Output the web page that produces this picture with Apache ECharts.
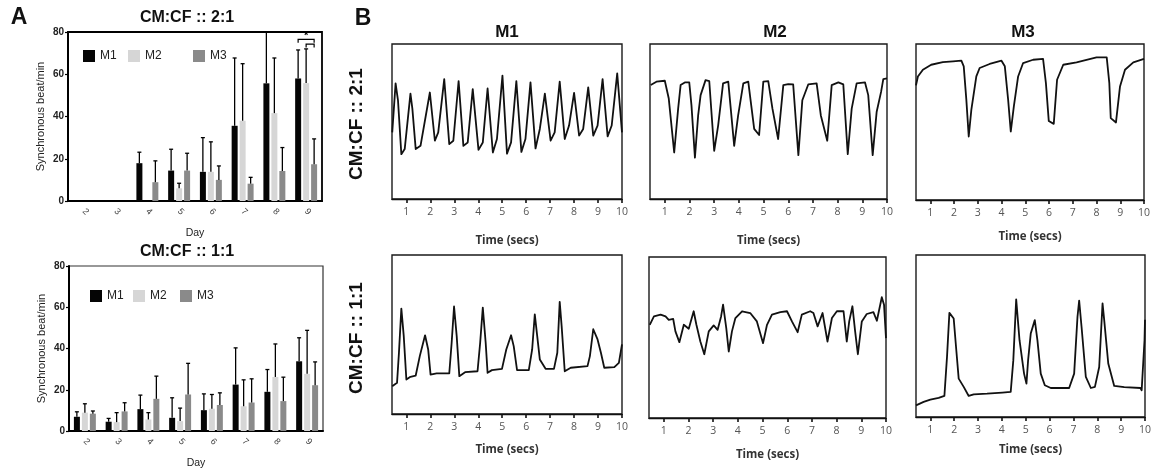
<!DOCTYPE html>
<html><head><meta charset="utf-8">
<script src="https://cdn.jsdelivr.net/npm/echarts@6/dist/echarts.min.js"></script>
<style>html,body{margin:0;padding:0;background:#fff}#c{width:1154px;height:470px}</style>
</head><body><div id="c"></div>
<script>
// ---------- Panel A data ----------
const days = ['2','3','4','5','6','7','8','9'];
const seriesNames = ['M1','M2','M3'];
// CM:CF 2:1 (means and upper SD)
const r21_M1 = [0,0,17.9,14.4,13.8,35.6,55.7,58.0];
const r21_M1_sd = [0,0,5.2,10.1,16.2,32.1,30.0,13.5];
const r21_M2 = [0,0,0,6.0,13.8,38.0,41.6,55.8];
const r21_M2_sd = [0,0,0,2.4,14.2,27.0,26.1,16.2];
const r21_M3 = [0,0,8.9,14.4,10.0,8.2,14.2,17.4];
const r21_M3_sd = [0,0,10.1,8.2,6.6,3.0,11.1,12.0];
// CM:CF 1:1
const r11_M1 = [6.9,4.5,10.6,6.4,10.1,22.5,19.0,33.8];
const r11_M1_sd = [2.4,1.6,6.8,9.7,7.9,17.8,10.8,11.4];
const r11_M2 = [8.9,4.3,5.6,4.8,10.8,12.0,26.2,27.7];
const r11_M2_sd = [4.3,4.6,3.3,6.3,6.9,12.8,16.0,21.1];
const r11_M3 = [8.4,9.5,15.6,17.7,12.6,13.8,14.5,22.2];
const r11_M3_sd = [1.3,4.2,11.0,15.1,5.9,11.5,11.6,11.3];
// significance brackets (day index, from series, to series, y value)
const sigBrackets = [[7,0,2,76.5],[7,1,2,74.3]];
const sigStars = [[7,1,78.2]];

// ---------- Panel B traces: [time (s), normalised signal] ----------
const timeTicks = [1,2,3,4,5,6,7,8,9,10];
const trace_21_M1 = [[0.41,43],[0.55,74.6],[0.65,63.7],[0.79,28.9],[0.93,32.2],[1.17,68],[1.25,58.3],[1.39,32.2],[1.59,34.3],[1.98,68.7],[2.19,37.6],[2.33,43],[2.58,77.4],[2.79,35.4],[2.96,37.6],[3.18,76.1],[3.38,34.3],[3.56,36.5],[3.77,70.9],[4.01,31.7],[4.19,36.5],[4.39,71.3],[4.61,30],[4.78,38.7],[5.01,79.6],[5.2,29.3],[5.37,36.5],[5.59,76.1],[5.8,30.4],[5.97,38.7],[6.18,75.2],[6.39,32.6],[6.57,45.2],[6.78,68],[7.02,37.6],[7.19,43],[7.4,75.7],[7.61,38.7],[7.79,47.4],[8,68.5],[8.21,40.9],[8.38,45.2],[8.59,72],[8.8,40.9],[8.98,47.4],[9.19,77.4],[9.4,40.4],[9.57,47.4],[9.8,81.1],[10,43]];
const trace_21_M2 = [[0.43,73.5],[0.66,75.7],[1.0,76.3],[1.16,64.8],[1.38,30],[1.54,58.3],[1.64,73.5],[1.81,75.2],[1.99,75.2],[2.08,60.4],[2.22,26.7],[2.35,53.9],[2.45,67],[2.65,76.7],[2.8,76.1],[3.0,31.1],[3.16,47.4],[3.36,74.6],[3.57,75.7],[3.81,34.3],[3.97,53.9],[4.18,74.6],[4.38,75.7],[4.62,45.2],[4.82,41.3],[4.99,75.7],[5.19,76.1],[5.36,58.3],[5.59,38.7],[5.8,73.5],[6.0,74.1],[6.2,73.9],[6.41,28.3],[6.57,63.7],[6.81,73.9],[7.15,74.6],[7.32,53.9],[7.58,37.6],[7.76,73.5],[8.03,75.2],[8.23,73.9],[8.41,28.9],[8.57,58.3],[8.77,74.6],[9.11,75.2],[9.24,67],[9.42,28.3],[9.58,56.1],[9.76,69.1],[9.85,77.4],[10,77.8]];
const trace_21_M3 = [[0.4,73.5],[0.48,79.2],[0.69,83.5],[1.04,86.7],[1.53,88.4],[1.96,88.9],[2.31,89.3],[2.41,85.7],[2.52,64.2],[2.62,40.7],[2.73,57.8],[2.94,79.2],[3.08,84.6],[3.5,87.2],[4.0,89.3],[4.14,85.7],[4.28,64.2],[4.39,43.9],[4.52,60],[4.7,79.2],[4.91,87.8],[5.33,89.9],[5.75,90.4],[5.87,74.9],[5.99,50.7],[6.2,48.8],[6.34,77.1],[6.6,86.7],[7.16,88.2],[8.0,91.4],[8.43,91.4],[8.54,74.9],[8.6,52.5],[8.82,49.7],[8.99,72.8],[9.2,83.5],[9.55,88.2],[10,90.4]];
const trace_11_M1 = [[0.41,17.5],[0.61,19.6],[0.69,38.5],[0.79,66.3],[0.89,49.1],[1.0,21.7],[1.17,23.4],[1.39,24.2],[1.56,36.4],[1.78,49.5],[1.91,40.6],[2.01,24.8],[2.26,25.5],[2.79,25.5],[2.89,44.8],[2.99,67.6],[3.1,49.1],[3.21,23.8],[3.45,26.3],[3.97,26.9],[4.08,44.8],[4.19,66.9],[4.31,44.8],[4.39,25.9],[4.57,27.6],[4.99,28.4],[5.17,40.6],[5.37,49.5],[5.48,42.7],[5.62,27.6],[6.11,27.6],[6.25,40.6],[6.36,62.7],[6.46,49.1],[6.57,34.3],[6.81,28.4],[7.16,28.4],[7.3,38.5],[7.4,70.5],[7.48,55.4],[7.61,26.9],[7.86,29.1],[8.56,30.1],[8.66,36.4],[8.8,53.3],[8.98,46.9],[9.12,38.5],[9.26,29.1],[9.68,29.5],[9.87,32.2],[10,43.8]];
const trace_11_M2 = [[0.43,57.9],[0.6,63.1],[0.87,64.2],[1.07,63.1],[1.2,61],[1.38,61.5],[1.47,53.8],[1.63,47.1],[1.81,57.9],[2.01,55.4],[2.21,66.3],[2.32,57.9],[2.48,47.5],[2.64,39.6],[2.82,53.8],[3.02,57.5],[3.18,54.8],[3.32,63.1],[3.4,70.4],[3.53,55.8],[3.63,41.3],[3.76,53.8],[3.9,62.1],[4.17,66.3],[4.5,65.2],[4.77,60],[5.02,46.5],[5.18,57.9],[5.38,64.2],[5.72,65.8],[5.99,66.3],[6.19,60],[6.42,53.3],[6.59,64.2],[6.93,66.3],[7.06,65.2],[7.23,56.9],[7.43,65.2],[7.63,47.5],[7.81,62.1],[8.01,66.3],[8.28,66.3],[8.41,47.5],[8.51,60],[8.64,69.4],[8.75,53.8],[8.86,39.6],[9.02,60],[9.22,64.6],[9.49,65.8],[9.63,60.4],[9.83,75],[9.92,70.4],[10,49.6]];
const trace_11_M3 = [[0.4,7.2],[0.72,9.3],[1.0,10.7],[1.35,11.8],[1.59,13],[1.7,37.1],[1.8,64.3],[1.98,60.8],[2.09,41.2],[2.19,23.7],[2.4,18.6],[2.61,13],[2.82,14],[3.38,14.4],[4.02,15.1],[4.37,15.5],[4.48,35.1],[4.6,72.6],[4.74,47.4],[4.93,26.8],[5.03,20.6],[5.1,35.1],[5.21,51.5],[5.38,59.8],[5.49,47.4],[5.63,26.8],[5.8,19.6],[6.05,17.9],[6.82,17.9],[7.03,26.8],[7.17,61.9],[7.24,71.8],[7.34,55.7],[7.52,24.7],[7.73,17.9],[7.9,18.6],[8.08,30.9],[8.22,70.1],[8.29,59.8],[8.46,33],[8.71,19.2],[9.13,18.4],[9.81,17.9],[9.86,16.5],[9.98,47.4],[10,60]];

// ---------- build ----------
const FONT = 'Liberation Sans, Arial, sans-serif';
const barColors = ['#050505','#d6d6d6','#8a8a8a'];
const BAR_STEP = 8; // px between bar centres inside a group
const barOffset = i => (i - 1) * BAR_STEP;

const chart = echarts.init(document.getElementById('c'));

const grids = [
  {left:68, top:32, width:254, height:169, show:true, borderColor:'#000', borderWidth:1.8},
  {left:69, top:266, width:254, height:166, show:true, borderColor:'#333', borderWidth:1.2},
  {left:392, top:44, width:230, height:155},
  {left:650, top:44, width:237, height:155},
  {left:916, top:44, width:228, height:156},
  {left:392, top:255, width:230, height:159},
  {left:649, top:257, width:237, height:161},
  {left:916, top:255, width:229, height:162}
].map(g => Object.assign({show:true, borderColor:'#1a1a1a', borderWidth:1.4, containLabel:false}, g));

const xAxes = [], yAxes = [], series = [];

// bar panels
[[0, [r21_M1,r21_M2,r21_M3], [r21_M1_sd,r21_M2_sd,r21_M3_sd], 27],
 [1, [r11_M1,r11_M2,r11_M3], [r11_M1_sd,r11_M2_sd,r11_M3_sd], 27]].forEach(([gi, means, sds, dayGap]) => {
  xAxes.push({type:'category', gridIndex:gi, data:days,
    axisLine:{lineStyle:{color:'#000', width:2}},
    axisTick:{alignWithLabel:true, length:3, lineStyle:{color:'#000', width:1.2}},
    axisLabel:{rotate:-45, fontSize:9, color:'#444', margin:9, fontFamily:FONT},
    name:'Day', nameLocation:'middle', nameGap:dayGap,
    nameTextStyle:{fontSize:10.5, color:'#222', fontFamily:FONT}});
  yAxes.push({type:'value', gridIndex:gi, min:0, max:80, interval:20,
    axisLine:{show:true, lineStyle:{color:'#000', width:2}},
    axisTick:{show:true, length:3, lineStyle:{color:'#000', width:1.2}},
    splitLine:{show:false},
    axisLabel:{fontSize:10, fontWeight:'bold', color:'#222', margin:4, fontFamily:FONT},
    name:'Synchronous beat/min', nameLocation:'middle', nameGap:22,
    nameTextStyle:{fontSize:11, color:'#222', fontFamily:FONT}});
  means.forEach((m, si) => {
    series.push({type:'bar', name:seriesNames[si], xAxisIndex:gi, yAxisIndex:gi,
      data:m, barWidth:6, barGap:'33%', itemStyle:{color:barColors[si]}, z:2, silent:true});
  });
  means.forEach((m, si) => {
    const off = barOffset(si);
    series.push({type:'custom', name:seriesNames[si] + ' SD', xAxisIndex:gi, yAxisIndex:gi, z:3, clip:true, silent:true,
      data: m.map((v, i) => [i, v, sds[si][i]]),
      renderItem(params, api) {
        const sd = api.value(2);
        if (!(sd > 0)) return null;
        const mean = api.value(1);
        const b = api.coord([api.value(0), mean]);
        const t = api.coord([api.value(0), mean + sd]);
        const x = b[0] + off;
        const st = {stroke:'#000', lineWidth:1.3};
        return {type:'group', children:[
          {type:'line', shape:{x1:x, y1:b[1], x2:x, y2:t[1]}, style:st},
          {type:'line', shape:{x1:x-2, y1:t[1], x2:x+2, y2:t[1]}, style:st}
        ]};
      }});
  });
});

// significance markers on 2:1 panel
series.push({type:'custom', name:'sig', xAxisIndex:0, yAxisIndex:0, z:4, silent:true,
  data: sigBrackets,
  renderItem(params, api) {
    const c1 = api.coord([api.value(0), api.value(3)]);
    const c0 = api.coord([api.value(0), api.value(3) - 1.6]);
    const x1 = c1[0] + barOffset(api.value(1)), x2 = c1[0] + barOffset(api.value(2));
    return {type:'polyline', shape:{points:[[x1,c0[1]],[x1,c1[1]],[x2,c1[1]],[x2,c0[1]]]},
      style:{stroke:'#000', lineWidth:1.2, fill:null}};
  }});
series.push({type:'custom', name:'star', xAxisIndex:0, yAxisIndex:0, z:4, silent:true,
  data: sigStars,
  renderItem(params, api) {
    const c = api.coord([api.value(0), api.value(2)]);
    return {type:'text', x:c[0] + barOffset(api.value(1)), y:c[1],
      style:{text:'*', fontSize:11, fontWeight:'bold', fill:'#000', align:'center', verticalAlign:'middle', fontFamily:FONT}};
  }});

// trace panels
const traces = [
  [2, trace_21_M1, 36], [3, trace_21_M2, 36], [4, trace_21_M3, 31],
  [5, trace_11_M1, 30], [6, trace_11_M2, 31], [7, trace_11_M3, 27]
];
traces.forEach(([gi, data, gap]) => {
  xAxes.push({type:'value', gridIndex:gi, min:0.4, max:10,
    axisLine:{lineStyle:{color:'#111', width:1.4}},
    axisTick:{show:true, customValues:timeTicks, length:4, lineStyle:{color:'#111', width:1.6}},
    axisLabel:{customValues:timeTicks, fontSize:10.5, color:'#555', margin:8, fontFamily:'Open Sans, sans-serif'},
    splitLine:{show:false},
    name:'Time (secs)', nameLocation:'middle', nameGap:gap,
    nameTextStyle:{fontSize:11.5, fontWeight:'bold', color:'#333', fontFamily:'Open Sans, sans-serif'}});
  yAxes.push({type:'value', gridIndex:gi, min:0, max:100, show:false});
  series.push({type:'line', name:'trace' + gi, xAxisIndex:xAxes.length-1, yAxisIndex:yAxes.length-1,
    data, showSymbol:false, symbol:'none', silent:true,
    lineStyle:{color:'#111', width:1.8, join:'round'}});
});

const legendBase = {padding:0, itemWidth:12, itemHeight:12, selectedMode:false,
  textStyle:{fontSize:12, color:'#222', fontFamily:FONT}, icon:'rect'};
const legends = [
  ['M1',83,50],['M2',128,50],['M3',193,50],
  ['M1',90,290],['M2',133,290],['M3',180,290]
].map(([n,l,t]) => Object.assign({}, legendBase, {data:[n], left:l, top:t}));

const txt = (text, x, y, size, extra) => Object.assign({type:'text', x, y,
  style:{text, fontSize:size, fontWeight:'bold', fill:'#111', align:'center', verticalAlign:'middle', fontFamily:FONT}}, extra || {});

chart.setOption({
  animation:false,
  backgroundColor:'#fff',
  grid: grids,
  xAxis: xAxes,
  yAxis: yAxes,
  legend: legends,
  series,
  graphic: [
    txt('A', 19, 18, 23),
    txt('B', 363, 19, 23),
    txt('CM:CF :: 2:1', 187, 18, 16),
    txt('CM:CF :: 1:1', 187, 252, 16),
    txt('M1', 507, 32, 17),
    txt('M2', 775, 32, 17),
    txt('M3', 1023, 32, 17),
    txt('CM:CF :: 2:1', 357, 124, 19, {rotation:Math.PI/2}),
    txt('CM:CF :: 1:1', 357, 338, 19, {rotation:Math.PI/2})
  ]
});
</script></body></html>
